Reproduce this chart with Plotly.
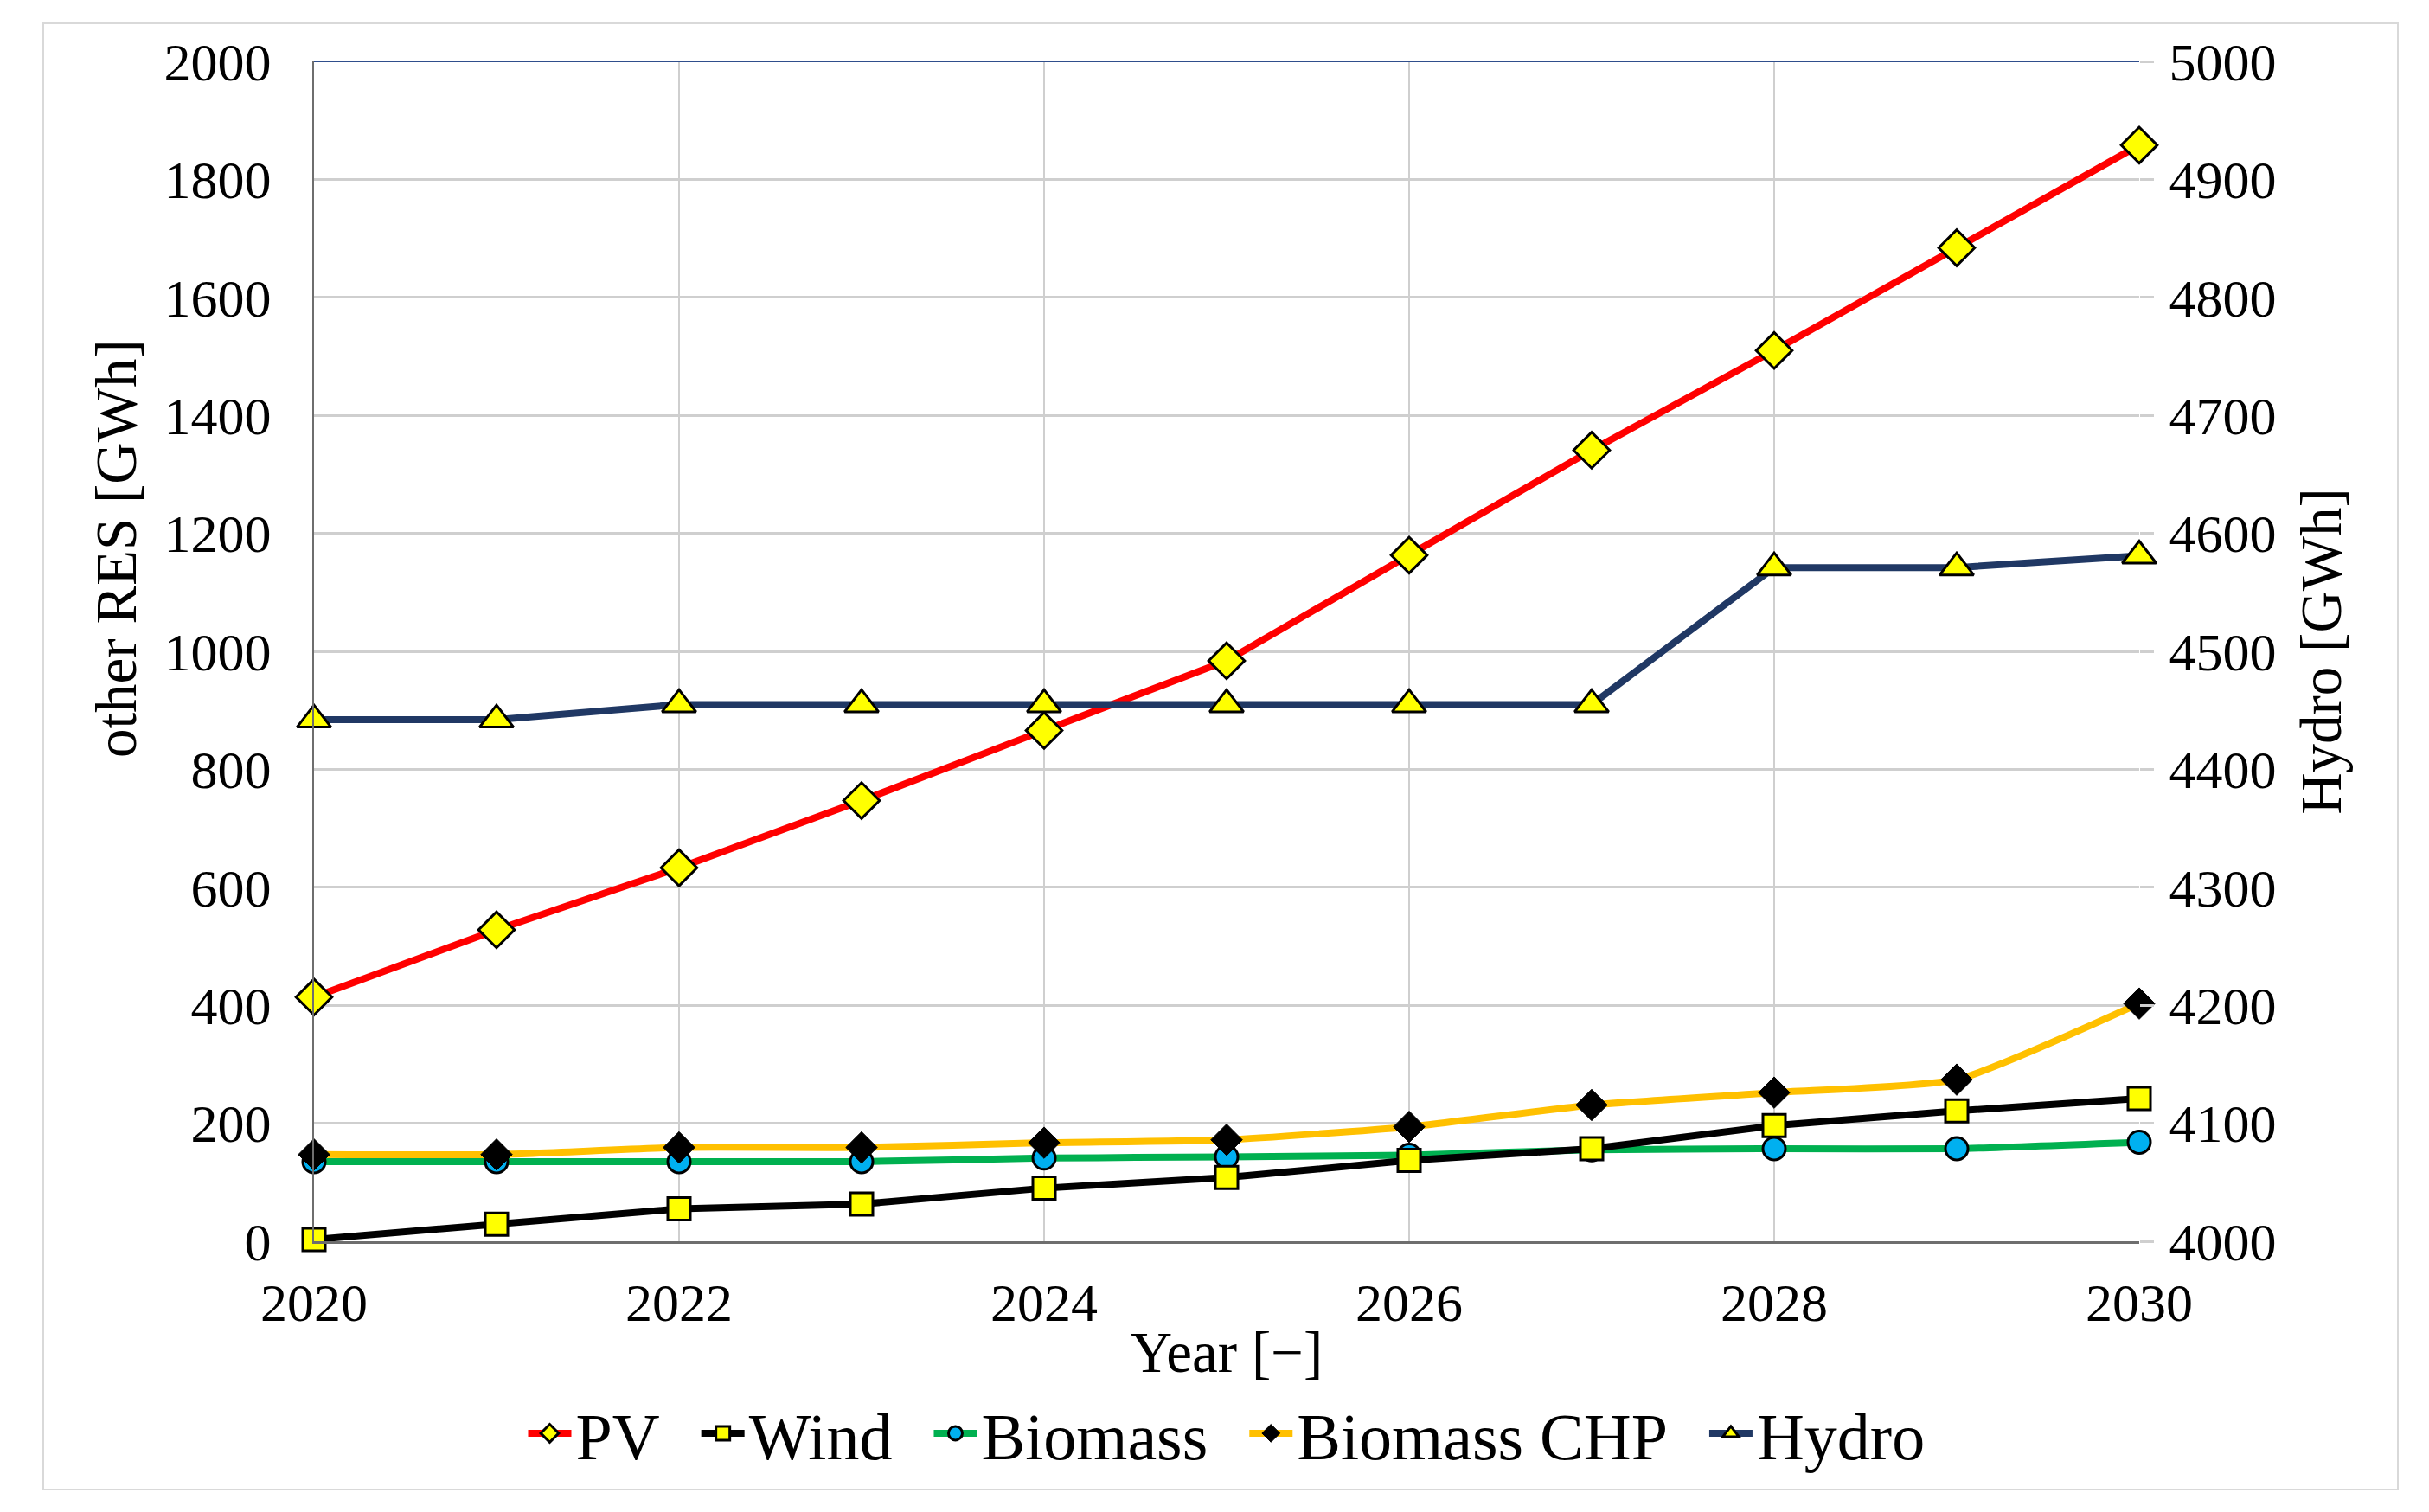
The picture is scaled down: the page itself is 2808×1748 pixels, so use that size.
import plotly.graph_objects as go

years = [2020, 2021, 2022, 2023, 2024, 2025, 2026, 2027, 2028, 2029, 2030]
pv = [414, 528, 633, 747, 866, 984, 1163, 1341, 1510, 1684, 1858]
wind = [3, 29, 55, 63, 90, 108, 137, 157, 196, 221, 242]
biomass = [135, 135, 135, 135, 141, 143, 146, 155, 157, 157, 168]
biomass_chp = [147, 147, 159, 159, 167, 172, 194, 231, 252, 274, 403]
hydro = [4442, 4442, 4455, 4455, 4455, 4455, 4455, 4455, 4571, 4571, 4581]

x_ticks = [2020, 2022, 2024, 2026, 2028, 2030]
left_ticks = list(range(0, 2001, 200))
right_ticks = list(range(4000, 5001, 100))

FONT = "Liberation Serif"
# page body has an 8px margin, so the figure is drawn 8px in from the window edge
W, H = 2792, 1732
ML, MR, MT, MB = 355, 327, 63, 305
PW, PH = W - ML - MR, H - MT - MB

def px_x(sx):  # screen x -> paper x
    return (sx - 8 - ML) / PW

def px_y(sy):  # screen y -> paper y
    return (H - MB - (sy - 8)) / PH

SP = "\u00a0\u00a0"

fig = go.Figure()

fig.add_trace(go.Scatter(
    x=years, y=hydro, name="Hydro", yaxis="y2", mode="lines+markers",
    line=dict(color="#203864", width=8),
    marker=dict(symbol="triangle-up", size=34, color="#FFFF00",
                line=dict(color="black", width=3)),
    cliponaxis=False, legendrank=5))
fig.add_trace(go.Scatter(
    x=years, y=pv, name="PV" + SP, mode="lines+markers",
    line=dict(color="#FF0000", width=8),
    marker=dict(symbol="diamond", size=32, color="#FFFF00",
                line=dict(color="black", width=3)),
    cliponaxis=False, legendrank=1))
fig.add_trace(go.Scatter(
    x=years, y=biomass, name="Biomass" + SP, mode="lines+markers",
    line=dict(color="#00B050", width=8, shape="spline", smoothing=0.5),
    marker=dict(symbol="circle", size=26, color="#00B0F0",
                line=dict(color="black", width=3)),
    cliponaxis=False, legendrank=3))
fig.add_trace(go.Scatter(
    x=years, y=wind, name="Wind" + SP, mode="lines+markers",
    line=dict(color="black", width=8),
    marker=dict(symbol="square", size=26, color="#FFFF00",
                line=dict(color="black", width=3)),
    cliponaxis=False, legendrank=2))
fig.add_trace(go.Scatter(
    x=years, y=biomass_chp, name="Biomass CHP" + SP, mode="lines+markers",
    line=dict(color="#FFC000", width=8, shape="spline", smoothing=0.5),
    marker=dict(symbol="diamond", size=28, color="black",
                line=dict(color="black", width=1)),
    cliponaxis=False, legendrank=4))

grid = "#CFCFCF"
fig.update_layout(
    width=W, height=H,
    margin=dict(l=ML, r=MR, t=MT, b=MB, autoexpand=False),
    paper_bgcolor="white", plot_bgcolor="white",
    font=dict(family=FONT, color="black", size=62),
    showlegend=True,
    legend=dict(orientation="h", x=0.5, xanchor="center", y=px_y(1657), yanchor="middle",
                font=dict(family=FONT, size=76), itemwidth=50, tracegroupgap=0,
                bgcolor="rgba(0,0,0,0)", traceorder="normal"),
    xaxis=dict(range=[2020, 2030], tickvals=x_ticks, ticktext=[str(v) for v in x_ticks],
               showgrid=True, gridcolor=grid, gridwidth=2,
               showline=True, linecolor="#6E6E6E", linewidth=3,
               ticks="", ticklabelstandoff=15, zeroline=False,
               tickfont=dict(family=FONT, size=62),
               title=dict(text="Year [−]", font=dict(family=FONT, size=67), standoff=0)),
    yaxis=dict(range=[0, 2000], tickvals=left_ticks,
               showgrid=True, gridcolor=grid, gridwidth=3,
               showline=True, linecolor="#6E6E6E", linewidth=2,
               ticks="", ticklabelstandoff=35, zeroline=False,
               tickfont=dict(family=FONT, size=62)),
    yaxis2=dict(range=[4000, 5000], tickvals=right_ticks, overlaying="y", side="right",
                showgrid=False, showline=False, zeroline=False,
                ticks="outside", ticklen=16, tickcolor=grid, tickwidth=3,
                ticklabelstandoff=5,
                tickfont=dict(family=FONT, size=62),
                title=dict(text="Hydro [GWh]", font=dict(family=FONT, size=67), standoff=28)),
    annotations=[
        dict(text="other RES [GWh]", textangle=-90, xref="paper", yref="paper",
             x=px_x(134), y=px_y(634), xanchor="center", yanchor="middle",
             showarrow=False, font=dict(family=FONT, size=67)),
    ],
    shapes=[
        dict(type="line", xref="paper", yref="paper", x0=0, x1=1, y0=1, y1=1,
             line=dict(color="#2F4E8C", width=2), layer="above"),
        dict(type="rect", xref="paper", yref="paper",
             x0=px_x(50), x1=px_x(2772), y0=px_y(1722), y1=px_y(27),
             line=dict(color="#D9D9D9", width=2), layer="below"),
    ],
)

fig.write_html("out.html")
